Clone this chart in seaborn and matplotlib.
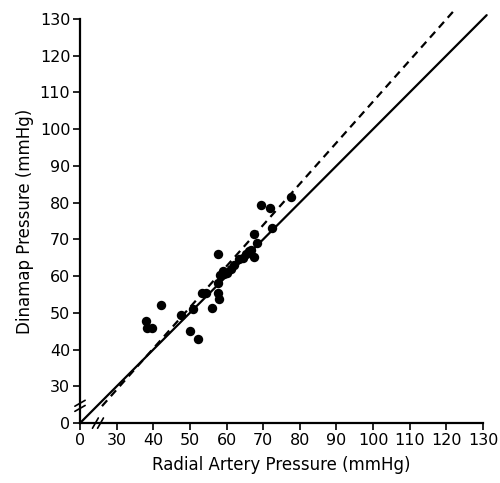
import numpy as np
import pandas as pd
import matplotlib
matplotlib.use("Agg")
import matplotlib.pyplot as plt
import seaborn as sns

# readings (mmHg), radial artery vs dinamap
radial = [37.9, 38.2, 39.7, 42.0, 47.5, 50.0, 52.3, 50.9, 53.2, 54.5,
          55.9, 57.8, 57.9, 57.6, 57.7, 58.2, 59.3, 60.2, 61.1, 62.0,
          63.4, 65.2, 66.1, 67.5, 67.6, 68.4, 66.7, 69.5, 71.8, 72.5,
          77.5, 59.0, 64.5]
dinamap = [47.7, 45.9, 45.9, 52.1, 49.3, 45.0, 43.0, 51.1, 55.5, 55.3,
           51.2, 55.5, 53.8, 58.0, 65.9, 60.2, 60.5, 60.9, 61.8, 62.9,
           64.6, 65.9, 66.8, 65.3, 71.4, 69.1, 67.1, 79.4, 78.4, 73.2,
           81.4, 61.5, 65.0]

# regression line (dashed) and line of identity (solid)
reg_slope = 1.12
reg_intercept = -4.5
reg_x = [26.0, 122.3]
ident_x = [20.0, 131.0]

tick_vals = [20, 30, 40, 50, 60, 70, 80, 90, 100, 110, 120, 130]
tick_labels = ["0", "30", "40", "50", "60", "70", "80", "90", "100", "110", "120", "130"]

df = pd.DataFrame({"radial": radial, "dinamap": dinamap})
reg_df = pd.DataFrame({"x": reg_x, "y": [reg_intercept + reg_slope * v for v in reg_x]})
ident_df = pd.DataFrame({"x": ident_x, "y": ident_x})

sns.set_style("ticks")
plt.rcParams['font.family'] = ['DejaVu Sans']

fig = plt.figure(figsize=(5, 4.83), dpi=100)
ax = fig.add_axes([0.16, 0.124, 0.806, 0.837])

sns.lineplot(data=ident_df, x="x", y="y", color="black", lw=1.6, ax=ax)
sns.lineplot(data=reg_df, x="x", y="y", color="black", lw=1.6, ax=ax)
ax.lines[-1].set_dashes([3.5, 2.5])
for ln in ax.lines:
    ln.set_clip_on(False)
sns.scatterplot(data=df, x="radial", y="dinamap", color="black", s=46,
                edgecolor="black", linewidth=0, ax=ax, zorder=5)

ax.set_xlim(20, 130)
ax.set_ylim(20, 130)
ax.set_xticks(tick_vals)
ax.set_xticklabels(tick_labels)
ax.set_yticks(tick_vals)
ax.set_yticklabels(tick_labels)
ax.tick_params(length=5, width=1.2, labelsize=11.5, colors="black", pad=2)

sns.despine(ax=ax)
for s in ["left", "bottom"]:
    ax.spines[s].set_linewidth(1.6)
    ax.spines[s].set_color("black")

# axis break marks
for xb in [24.2, 25.6]:
    ax.plot([xb - 0.8, xb + 0.8], [20 - 1.4, 20 + 1.4], color="black", lw=1.2, clip_on=False)
for yb in [24.0, 25.4]:
    ax.plot([20 - 1.4, 20 + 1.4], [yb - 0.8, yb + 0.8], color="black", lw=1.2, clip_on=False)

ax.set_xlabel("Radial Artery Pressure (mmHg)", fontsize=12, labelpad=6, color="black")
ax.set_ylabel("Dinamap Pressure (mmHg)", fontsize=12, labelpad=4, color="black")

fig.savefig("out.png", dpi=100)
